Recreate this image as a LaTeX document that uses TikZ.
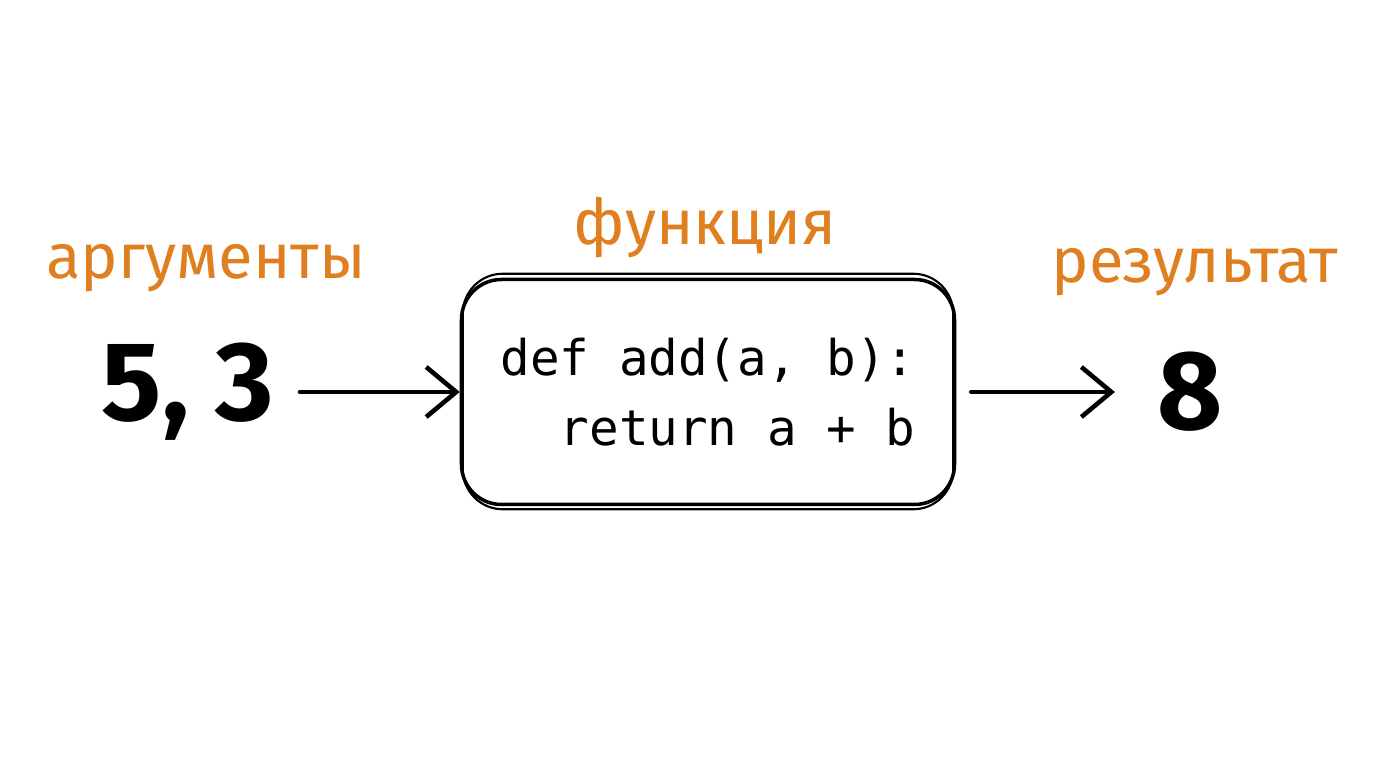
\documentclass[tikz,border=0pt]{standalone}
\usepackage{fontspec}
\setmainfont{Fira Sans}
\setmonofont{DejaVu Sans Mono}
\usetikzlibrary{arrows.meta,positioning}
\definecolor{labelorange}{HTML}{E07F1F}
\begin{document}
\begin{tikzpicture}[
    label/.style={text=labelorange, font=\fontsize{18}{20}\selectfont},
    value/.style={font=\fontsize{32}{36}\selectfont\bfseries},
    link/.style={-{Straight Barb[length=3mm,width=5mm]}, line width=1.3pt, line cap=round}
]
    \useasboundingbox (0,0) rectangle (13.76,7.68);

    \node[draw, line width=1pt, rounded corners=4mm, minimum width=4.93cm, minimum height=2.25cm,
          align=left, font=\ttfamily\fontsize{14}{20}\selectfont] at (7.08,3.76) (func)
        {def add(a, b):\\\ \ return a + b};
    \draw[line width=0.6pt, rounded corners=4mm] ([shift={(0.03,-0.03)}]func.south west) rectangle ([shift={(-0.03,0.04)}]func.north east);

    \node[value] at (1.88,3.76) (args) {5, 3};
    \node[value] at (11.9,3.76) (res) {8};

    \node[label] at (2.06,5.0) (argslabel) {аргументы};
    \node[label] at (7.05,5.4) (funclabel) {функция};
    \node[label] at (11.95,4.96) (reslabel) {результат};

    \draw[link] (3.0,3.76) coordinate (a1) (a1) -- (func.west);
    \draw[link] (func.east) ++(0.15,0) coordinate (b1) (b1) -- ([xshift=-0.3cm]res.west);
\end{tikzpicture}
\end{document}
